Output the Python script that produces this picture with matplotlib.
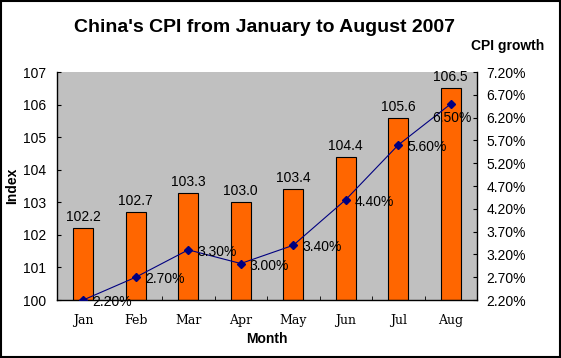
import matplotlib
matplotlib.use('Agg')
import matplotlib.pyplot as plt
from matplotlib.patches import Rectangle

plt.rcParams['font.family'] = ['Liberation Sans', 'DejaVu Sans']

months = ['Jan', 'Feb', 'Mar', 'Apr', 'May', 'Jun', 'Jul', 'Aug']
cpi_index = [102.2, 102.7, 103.3, 103.0, 103.4, 104.4, 105.6, 106.5]
cpi_growth = [2.20, 2.70, 3.30, 3.00, 3.40, 4.40, 5.60, 6.50]
growth_ticks = [2.2, 2.7, 3.2, 3.7, 4.2, 4.7, 5.2, 5.7, 6.2, 6.7, 7.2]

W, H = 561, 358
fig = plt.figure(figsize=(W / 100, H / 100), dpi=100)
fig.patch.set_facecolor('white')
fig.patches.append(Rectangle((0.001, 0.002), 0.997, 0.995, transform=fig.transFigure,
                             fill=False, edgecolor='black', lw=1.5))

# plot area in pixels: left 57, right 477, top 72, bottom 300
ax = fig.add_axes([57 / W, 1 - 300 / H, 420 / W, 228 / H])
ax.set_facecolor('#C0C0C0')
x = list(range(len(months)))
ax.bar(x, [v - 100 for v in cpi_index], bottom=100, width=0.38,
       color='#FF6600', edgecolor='black', lw=0.8, zorder=2)
ax.set_xlim(-0.5, 7.5)
ax.set_ylim(100, 107)
ax.set_yticks(range(100, 108))
ax.set_xticks(x)
ax.set_xticklabels(months, family=['DejaVu Serif'], fontsize=9)
ax.set_xticks([i + 0.5 for i in x[:-1]], minor=True)
ax.tick_params(axis='x', which='major', length=0, pad=10)
ax.tick_params(axis='x', which='minor', length=3, direction='in')
ax.tick_params(axis='y', length=3, labelsize=10, direction='in', pad=8)
for s in ['top', 'right']:
    ax.spines[s].set_visible(False)
for s in ['left', 'bottom']:
    ax.spines[s].set_linewidth(1.0)
for xi, v in zip(x, cpi_index):
    ax.text(xi, v + 0.12, f'{v:.1f}', ha='center', va='bottom', fontsize=10)

ax2 = ax.twinx()
ax2.plot(x, cpi_growth, color='#000080', lw=0.8, marker='D', ms=4, zorder=3)
ax2.set_ylim(2.2, 7.2)
ax2.set_yticks(growth_ticks)
ax2.set_yticklabels([f'{t:.2f}%' for t in growth_ticks])
ax2.tick_params(axis='y', length=3, labelsize=10, direction='in', pad=7)
for s in ['top', 'left', 'bottom']:
    ax2.spines[s].set_visible(False)
ax2.spines['right'].set_linewidth(1.0)
for i, (xi, v) in enumerate(zip(x, cpi_growth)):
    # last label is pushed back inside the plot area, as in the original
    off = (6.5, -1.5) if i < len(x) - 1 else (-13, -10)
    ax2.annotate(f'{v:.2f}%', (xi, v), xytext=off, textcoords='offset points',
                 ha='left', va='center', fontsize=10)

fig.text(264 / W, 1 - 32 / H, "China's CPI from January to August 2007",
         ha='center', va='baseline', fontsize=14, fontweight='bold')
fig.text(508 / W, 1 - 46 / H, 'CPI growth', ha='center', va='center',
         fontsize=10, fontweight='bold')
fig.text(12 / W, 1 - 186 / H, 'Index', ha='center', va='center', rotation=90,
         fontsize=10, fontweight='bold')
fig.text(267 / W, 1 - 339 / H, 'Month', ha='center', va='center',
         fontsize=10, fontweight='bold')

fig.savefig('out.png', dpi=100)
